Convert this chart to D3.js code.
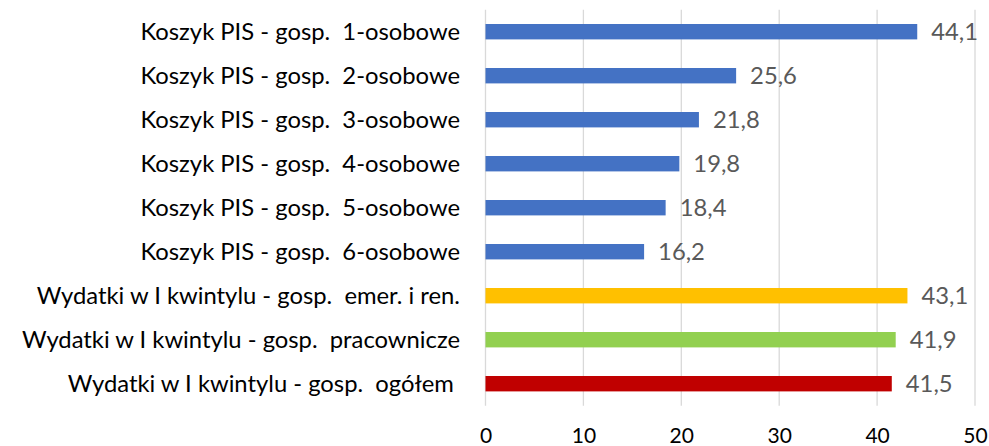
<!DOCTYPE html>
<html>
<head>
<meta charset="utf-8">
<script src="https://cdn.jsdelivr.net/npm/d3@7"></script>
<style>
  html, body { margin: 0; padding: 0; background: #fff; }
  svg text { font-family: Lato, "Open Sans", sans-serif; white-space: pre; }
</style>
</head>
<body>
<svg id="chart" width="989" height="446"></svg>
<script>
const categories = [
  'Koszyk PIS - gosp.  1-osobowe',
  'Koszyk PIS - gosp.  2-osobowe',
  'Koszyk PIS - gosp.  3-osobowe',
  'Koszyk PIS - gosp.  4-osobowe',
  'Koszyk PIS - gosp.  5-osobowe',
  'Koszyk PIS - gosp.  6-osobowe',
  'Wydatki w I kwintylu - gosp.  emer. i ren.',
  'Wydatki w I kwintylu - gosp.  pracownicze',
  'Wydatki w I kwintylu - gosp.  ogółem '
];
const values = [44.1, 25.6, 21.8, 19.8, 18.4, 16.2, 43.1, 41.9, 41.5];
const barColors = ['#4472C4', '#4472C4', '#4472C4', '#4472C4', '#4472C4', '#4472C4',
                   '#FFC000', '#92D050', '#C00000'];
const xTicks = [0, 10, 20, 30, 40, 50];

const svg = d3.select('#chart');
const margin = {left: 485.5, right: 14, top: 9.7, bottom: 40};
const width = 989, height = 446;

const x = d3.scaleLinear()
  .domain([0, 50])
  .range([margin.left, width - margin.right]);

const y = d3.scaleBand()
  .domain(categories)
  .range([margin.top, margin.top + 44 * categories.length])
  .paddingInner(0.65)
  .paddingOuter(0.325);

const plotBottom = margin.top + 44 * categories.length;

// vertical gridlines
svg.append('g')
  .selectAll('line')
  .data(xTicks)
  .enter().append('line')
    .attr('x1', d => x(d)).attr('x2', d => x(d))
    .attr('y1', margin.top).attr('y2', plotBottom)
    .attr('stroke', '#D9D9D9')
    .attr('stroke-width', 1.3);

// bars
svg.append('g')
  .selectAll('rect')
  .data(values)
  .enter().append('rect')
    .attr('x', x(0))
    .attr('y', (d, i) => y(categories[i]))
    .attr('width', d => x(d) - x(0))
    .attr('height', y.bandwidth())
    .attr('fill', (d, i) => barColors[i]);

// value labels
svg.append('g')
  .selectAll('text')
  .data(values)
  .enter().append('text')
    .attr('x', d => x(d) + 14)
    .attr('y', (d, i) => y(categories[i]) + y.bandwidth() / 2)
    .attr('dy', '0.36em')
    .attr('fill', '#595959')
    .attr('font-size', 23.8)
    .text(d => d3.format('.1f')(d).replace('.', ','));

// category labels
svg.append('g')
  .selectAll('text')
  .data(categories)
  .enter().append('text')
    .attr('x', 460)
    .attr('y', d => y(d) + y.bandwidth() / 2)
    .attr('dy', '0.36em')
    .attr('text-anchor', 'end')
    .attr('fill', '#000')
    .attr('font-size', 23.8)
    .text(d => d);

// x axis tick labels
const xAxis = d3.axisBottom(x).tickValues(xTicks).tickSize(0).tickPadding(0);
const gx = svg.append('g')
  .attr('transform', `translate(0,${plotBottom + 22})`)
  .call(xAxis);
gx.select('.domain').remove();
gx.selectAll('text')
  .attr('font-size', 21)
  .attr('fill', '#000')
  .attr('font-family', 'Lato, "Open Sans", sans-serif');
</script>
</body>
</html>
